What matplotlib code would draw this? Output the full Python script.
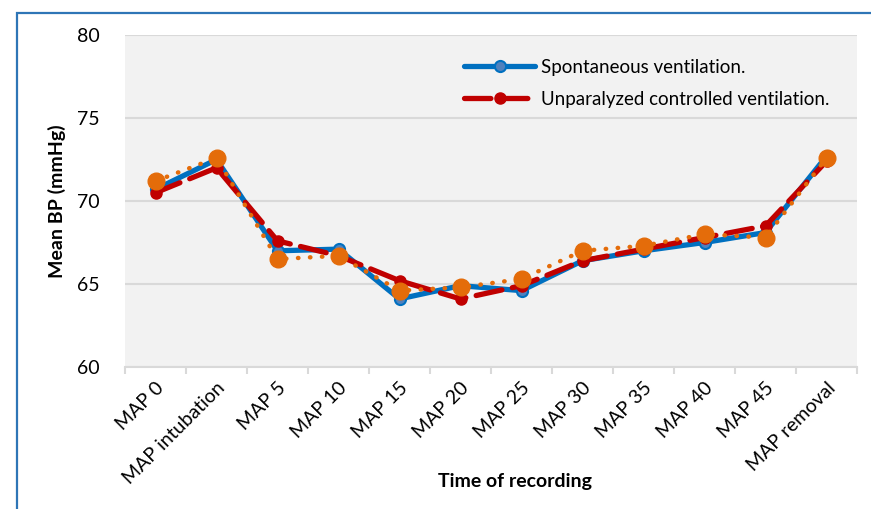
import numpy as np
import matplotlib.pyplot as plt
from matplotlib.patches import Rectangle

# --- Dados ---
categorias = ['MAP 0', 'MAP intubation', 'MAP 5', 'MAP 10', 'MAP 15', 'MAP 20',
              'MAP 25', 'MAP 30', 'MAP 35', 'MAP 40', 'MAP 45', 'MAP removal']
espontanea = [70.7, 72.5, 67.0, 67.1, 64.1, 64.9, 64.6, 66.4, 67.0, 67.5, 68.1, 72.7]
controlada = [70.5, 72.0, 67.6, 66.7, 65.2, 64.1, 64.9, 66.4, 67.1, 67.8, 68.5, 72.4]
terceira = [71.2, 72.6, 66.5, 66.7, 64.6, 64.8, 65.3, 67.0, 67.3, 68.0, 67.8, 72.6]

plt.rcParams['font.family'] = ['Lato', 'DejaVu Sans']

fig = plt.figure(figsize=(8.71, 5.09), dpi=100)
ax = fig.add_axes([125 / 871, 1 - 367 / 509, 732 / 871, 332 / 509])

# Moldura azul da figura
fig.patches.append(Rectangle((17 / 871, -0.05), 1.0, 1 - 13 / 509 + 0.05,
                             transform=fig.transFigure, fill=False,
                             edgecolor='#2E75B6', linewidth=1.6))

x = np.arange(len(categorias))

ax.plot(x, espontanea, color='#0070C0', linewidth=3.8, marker='o', markersize=8,
        markerfacecolor='#4F81BD', markeredgecolor='#0070C0', markeredgewidth=1.5,
        solid_capstyle='round', label='Spontaneous ventilation.', zorder=3)
ax.plot(x, controlada, color='#C00000', linewidth=3.8, linestyle=(0, (5, 2)),
        marker='o', markersize=8, markerfacecolor='#C00000', markeredgecolor='#C00000',
        dash_capstyle='round', label='Unparalyzed controlled ventilation.', zorder=4)
ax.plot(x, terceira, color='#E46C0A', linewidth=3.2, linestyle=(0, (0.1, 2.6)),
        dash_capstyle='round', marker='o', markersize=12,
        markerfacecolor='#E46C0A', markeredgecolor='#E46C0A', zorder=5)

ax.set_facecolor('#F2F2F2')
ax.set_xlim(-0.5, len(categorias) - 0.5)
ax.set_ylim(60, 80)
ax.set_yticks([60, 65, 70, 75, 80])
ax.yaxis.grid(True, color='#D9D9D9', linewidth=1.5)
ax.set_axisbelow(True)
for lado in ['top', 'right', 'left']:
    ax.spines[lado].set_visible(False)
ax.spines['bottom'].set_color('#D9D9D9')
ax.spines['bottom'].set_linewidth(1.5)

ax.set_xticks(x)
ax.set_xticklabels(categorias, rotation=45, ha='right', rotation_mode='anchor', fontsize=14)
ax.tick_params(axis='x', length=0, pad=9)
ax.set_xticks(np.arange(-0.5, len(categorias)), minor=True)
ax.tick_params(axis='x', which='minor', length=5, color='#D9D9D9', width=1.5)
ax.tick_params(axis='y', length=0, labelsize=14, pad=18)

ax.set_ylabel('Mean BP (mmHg)', fontsize=14, fontweight='bold', labelpad=8)
ax.set_xlabel('Time of recording', fontsize=14, fontweight='bold')
ax.xaxis.set_label_coords(0.533, -0.318)

ax.legend(loc='upper right', bbox_to_anchor=(0.985, 0.98), frameon=False, fontsize=13.5,
          handlelength=3.8, handletextpad=0.3, labelspacing=0.8)

fig.savefig('out.png', dpi=100)
